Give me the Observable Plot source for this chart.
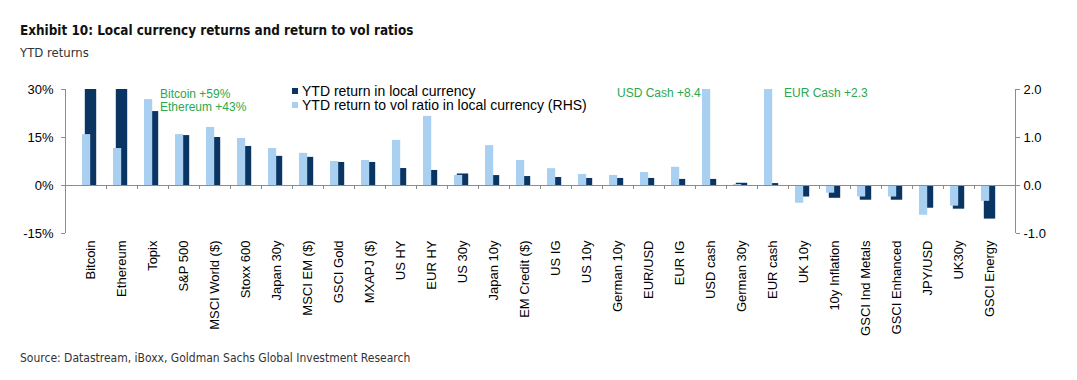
<!DOCTYPE html>
<html><head><meta charset="utf-8">
<script src="https://cdn.jsdelivr.net/npm/d3@7"></script>
<script src="https://cdn.jsdelivr.net/npm/@observablehq/plot@0.6"></script>
<style>
body{margin:0;background:#fff;}
#wrap{position:relative;width:1077px;height:380px;overflow:hidden;font-family:"Liberation Sans",Arial,sans-serif;}
.t{position:absolute;left:20px;white-space:nowrap;font-family:"Liberation Sans Narrow","DejaVu Sans Condensed","Roboto Condensed","Liberation Sans",sans-serif;}
#title{top:23px;font-size:13.4px;font-weight:bold;color:#111;}
#sub{top:45px;font-size:13px;color:#333;}
#src{top:351px;font-size:12px;color:#333;}
#chart{position:absolute;left:0;top:70px;}
.ann{position:absolute;font-size:12px;line-height:14px;color:#2aa84e;white-space:nowrap;}
.leg{position:absolute;left:292px;font-size:14px;line-height:15px;color:#000;white-space:nowrap;}
.leg span{display:inline-block;width:6px;height:6px;margin-right:4px;vertical-align:2px;}
</style></head>
<body>
<div id="wrap">
  <div class="t" id="title">Exhibit 10: Local currency returns and return to vol ratios</div>
  <div class="t" id="sub">YTD returns</div>
  <div id="chart"></div>
  <div class="leg" id="leg1" style="top:84px"></div>
  <div class="leg" id="leg2" style="top:98px"></div>
  <div class="ann" id="a1" style="left:160px;top:87px"></div>
  <div class="ann" id="a2" style="left:160px;top:100px"></div>
  <div class="ann" id="a3" style="left:617px;top:86px"></div>
  <div class="ann" id="a4" style="left:784px;top:86px"></div>
  <div class="t" id="src">Source: Datastream, iBoxx, Goldman Sachs Global Investment Research</div>
</div>
<script>
// ---- data ----
const categories = ["Bitcoin","Ethereum","Topix","S&P 500","MSCI World ($)","Stoxx 600","Japan 30y","MSCI EM ($)","GSCI Gold","MXAPJ ($)","US HY","EUR HY","US 30y","Japan 10y","EM Credit ($)","US IG","US 10y","German 10y","EUR/USD","EUR IG","USD cash","German 30y","EUR cash","UK 10y","10y Inflation","GSCI Ind Metals","GSCI Enhanced","JPY/USD","UK30y","GSCI Energy"];
// YTD return in local currency (%)
const returns = [59, 43, 23.1, 15.6, 15.0, 12.2, 9.1, 8.8, 7.2, 7.2, 5.3, 4.7, 3.6, 3.1, 2.8, 2.5, 2.2, 2.2, 2.2, 1.9, 1.9, 0.7, 0.6, -3.6, -4.0, -4.6, -4.6, -7.1, -7.4, -10.5];
// YTD return to vol ratio in local currency (RHS)
const ratios = [1.06, 0.77, 1.79, 1.06, 1.21, 0.98, 0.77, 0.67, 0.50, 0.52, 0.94, 1.44, 0.21, 0.83, 0.52, 0.35, 0.23, 0.21, 0.27, 0.38, 8.4, 0.02, 2.3, -0.37, -0.16, -0.24, -0.24, -0.62, -0.43, -0.33];
const leftTicks = [-15, 0, 15, 30];
const rhsTicks = [-1, 0, 1, 2];
const seriesNames = ["YTD return in local currency", "YTD return to vol ratio in local currency (RHS)"];

const dark = "#0a3562", light = "#a9d0f0";
const K = 15; // 1.0 on RHS == 15% on LHS
const rows = categories.map((c, i) => ({cat: c, ret: returns[i], ratio: ratios[i]}));

function axisLines(index, scales, values, dims) {
  const g = d3.create("svg:g").attr("stroke", "#8c8c8c").attr("shape-rendering", "crispEdges");
  const yTop = scales.y(leftTicks[leftTicks.length - 1]), yBot = scales.y(leftTicks[0]);
  const xl = dims.marginLeft, xr = dims.width - dims.marginRight;
  g.append("line").attr("x1", xl).attr("x2", xl).attr("y1", yTop).attr("y2", yBot);
  g.append("line").attr("x1", xr).attr("x2", xr).attr("y1", yTop).attr("y2", yBot);
  const y0 = scales.y(0);
  categories.slice(1).forEach(c => {
    const x = Math.round(scales.x(c)) + 0.5;
    g.append("line").attr("x1", x).attr("x2", x).attr("y1", y0).attr("y2", y0 + 4);
  });
  return g.node();
}

const fontFam = '"Liberation Sans", Arial, sans-serif';
const chart = Plot.plot({
  width: 1077, height: 275,
  marginLeft: 65, marginRight: 62, marginTop: 19, marginBottom: 112,
  x: {type: "band", domain: categories, padding: 0},
  y: {domain: [leftTicks[0], leftTicks[leftTicks.length - 1]], clamp: true},
  style: {fontFamily: fontFam, fontSize: "13px", color: "#000", background: "transparent"},
  marks: [
    Plot.barY(rows, {x: "cat", y: "ret", fill: dark, insetLeft: 9.8, insetRight: 9.8}),
    Plot.barY(rows, {x: "cat", y: d => d.ratio * K, fill: light, insetLeft: 7, insetRight: 15.8}),
    Plot.ruleY([0], {stroke: "#8c8c8c"}),
    axisLines,
    Plot.axisY({anchor: "left", ticks: leftTicks, tickFormat: d => d + "%", tickSize: 4, tickPadding: 8, stroke: "#8c8c8c", label: null}),
    Plot.axisY({anchor: "right", ticks: rhsTicks.map(v => v * K), tickFormat: d => (d / K).toFixed(1), tickSize: 4, tickPadding: 4, stroke: "#8c8c8c", label: null}),
    Plot.axisX({anchor: "bottom", tickSize: 0, tickRotate: -90, tickPadding: 7, label: null})
  ]
});
document.getElementById("chart").append(chart);

document.getElementById("leg1").innerHTML = `<span style="background:${dark}"></span>` + seriesNames[0];
document.getElementById("leg2").innerHTML = `<span style="background:${light}"></span>` + seriesNames[1];
document.getElementById("a1").textContent = `${categories[0]} +${returns[0]}%`;
document.getElementById("a2").textContent = `${categories[1]} +${returns[1]}%`;
document.getElementById("a3").textContent = `USD Cash +${ratios[20]}`;
document.getElementById("a4").textContent = `EUR Cash +${ratios[22]}`;
</script>
</body></html>
